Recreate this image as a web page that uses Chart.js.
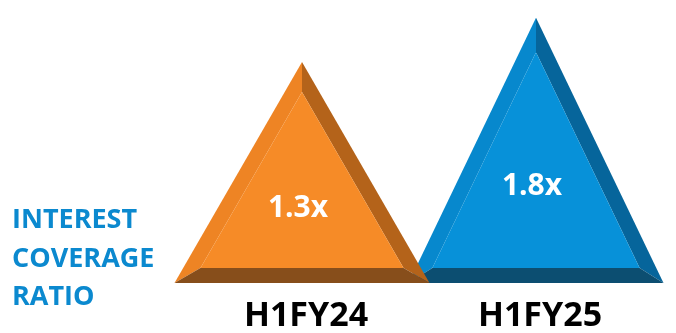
<!DOCTYPE html>
<html>
<head>
<meta charset="utf-8">
<script src="https://cdn.jsdelivr.net/npm/chart.js@4.4.1/dist/chart.umd.min.js"></script>
<style>
  html, body { margin: 0; padding: 0; background: #fff; }
  #wrap { width: 676px; height: 333px; }
</style>
</head>
<body>
<div id="wrap"><canvas id="icr"></canvas></div>
<script>
// data
const categories = ['H1FY24', 'H1FY25'];
const coverageRatio = [1.3, 1.8];
const valueLabels = ['1.3x', '1.8x'];
const sideTitle = ['INTEREST', 'COVERAGE', 'RATIO'];
const yMin = -1.2;
const yMax = 2.0;

// face colours for each triangle: main, left, right, bottom
const faces = [
    { main: '#F68B27', left: '#EE8424', right: '#B4631A', bottom: '#874E1B' },
    { main: '#0791D9', left: '#0788CD', right: '#06659B', bottom: '#0C4E71' }
];

const pyramidPlugin = {
    id: 'pyramids',
    afterDatasetsDraw(chart) {
        const ctx = chart.ctx;
        const meta = chart.getDatasetMeta(0);
        const bevel = 15;

        // blue first, orange sits on top where they overlap
        for (let i = meta.data.length - 1; i >= 0; i--) {
            const el = meta.data[i];
            const p = el.getProps(['x', 'y', 'base', 'width'], true);
            const cx = p.x, top = p.y, base = p.base, hw = p.width / 2;
            const H = base - top;
            const sinA = hw / Math.sqrt(hw * hw + H * H);
            const iTop = top + bevel / sinA;
            const iBase = base - bevel;
            const iHw = hw * (iBase - iTop) / H;
            const c = faces[i];

            const poly = (pts, col) => {
                ctx.beginPath();
                ctx.moveTo(pts[0][0], pts[0][1]);
                for (let k = 1; k < pts.length; k++) ctx.lineTo(pts[k][0], pts[k][1]);
                ctx.closePath();
                ctx.fillStyle = col;
                ctx.fill();
            };
            ctx.save();
            poly([[cx, top], [cx - hw, base], [cx - iHw, iBase], [cx, iTop]], c.left);
            poly([[cx, top], [cx + hw, base], [cx + iHw, iBase], [cx, iTop]], c.right);
            poly([[cx - hw, base], [cx + hw, base], [cx + iHw, iBase], [cx - iHw, iBase]], c.bottom);
            poly([[cx, iTop], [cx - iHw, iBase], [cx + iHw, iBase]], c.main);

            ctx.fillStyle = '#ffffff';
            ctx.font = 'bold 30px "Open Sans"';
            ctx.textAlign = 'center';
            ctx.textBaseline = 'alphabetic';
            ctx.fillText(valueLabels[i], cx - 4, top + 39 + H * 0.523);
            ctx.restore();
        }

        // side title
        ctx.save();
        ctx.fillStyle = '#0B89CF';
        ctx.font = 'bold 27px "Open Sans"';
        ctx.textAlign = 'left';
        ctx.textBaseline = 'alphabetic';
        sideTitle.forEach((t, k) => ctx.fillText(t, 12, 228 + k * 38.5));
        ctx.restore();
    }
};

new Chart(document.getElementById('icr').getContext('2d'), {
    type: 'bar',
    data: {
        labels: categories,
        datasets: [{
            data: coverageRatio,
            base: yMin,
            backgroundColor: 'rgba(0,0,0,0)',
            borderWidth: 0,
            barThickness: 255
        }]
    },
    options: {
        responsive: true,
        maintainAspectRatio: false,
        animation: false,
        layout: { padding: { left: 185, right: 23, top: 0, bottom: 0 } },
        plugins: {
            legend: { display: false },
            tooltip: { enabled: false }
        },
        scales: {
            x: {
                grid: { display: false, drawTicks: false },
                border: { display: false },
                ticks: {
                    color: '#000',
                    font: { family: 'Open Sans', size: 34, weight: 'bold' },
                    padding: 13,
                    labelOffset: 4
                },
                afterFit(scale) { scale.height = 50; }
            },
            y: {
                display: false,
                min: yMin,
                max: yMax
            }
        }
    },
    plugins: [pyramidPlugin]
});
</script>
</body>
</html>
